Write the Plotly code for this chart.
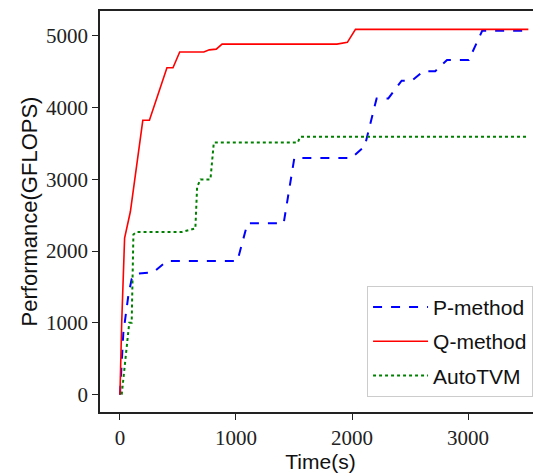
import plotly.graph_objects as go

# P-method
p_time = [0, 29, 72, 101, 145, 289, 405, 1012, 1099, 1411, 1503, 1995, 2110, 2212, 2313, 2428, 2515, 2616, 2717, 2819, 3007, 3122, 3520]
p_perf = [0, 857, 1378, 1610, 1685, 1705, 1860, 1860, 2385, 2385, 3295, 3295, 3460, 4124, 4124, 4370, 4370, 4503, 4503, 4659, 4659, 5065, 5065]

# Q-method
q_time = [0, 15, 40, 90, 197, 254, 405, 457, 515, 723, 770, 830, 880, 1870, 1960, 2030, 3520]
q_perf = [0, 1000, 2180, 2550, 3820, 3820, 4550, 4550, 4770, 4770, 4800, 4810, 4880, 4880, 4905, 5085, 5085]

# AutoTVM
a_time = [15, 80, 101, 116, 145, 535, 650, 665, 694, 780, 809, 1532, 1553, 3500]
a_perf = [0, 1000, 1000, 2230, 2265, 2265, 2315, 2890, 2997, 2997, 3510, 3510, 3590, 3590]

x_ticks = [0, 1000, 2000, 3000]
y_ticks = [0, 1000, 2000, 3000, 4000, 5000]

fig = go.Figure()
fig.add_trace(go.Scatter(x=p_time, y=p_perf, mode="lines", name="P-method",
                         line=dict(color="#0000ff", width=2, dash="dash"),
                         legendgroup="p"))
fig.add_trace(go.Scatter(x=q_time, y=q_perf, mode="lines", name="Q-method",
                         line=dict(color="#ff0000", width=1.6),
                         legendgroup="q"))
fig.add_trace(go.Scatter(x=a_time, y=a_perf, mode="lines", name="AutoTVM",
                         line=dict(color="#008000", width=2, dash="dot"),
                         legendgroup="a"))

tickfont = dict(family="Liberation Serif", size=21, color="#222")
fig.update_layout(
    width=533, height=465,
    margin=dict(l=92, r=0, t=3, b=61),
    paper_bgcolor="white", plot_bgcolor="white",
    showlegend=True,
    legend=dict(x=0.982, y=0.038, xanchor="right", yanchor="bottom",
                bordercolor="#cccccc", borderwidth=1, bgcolor="white",
                font=dict(family="Liberation Sans", size=21, color="#111"),
                traceorder="grouped", tracegroupgap=4, itemwidth=55),
    xaxis=dict(range=[-172, 3629], tickvals=x_ticks, showgrid=False, zeroline=False,
               showline=True, linecolor="#222", linewidth=1.5, mirror=True,
               ticks="outside", ticklen=6, tickcolor="#222", tickfont=tickfont,
               title=dict(text="Time(s)", font=dict(family="Liberation Sans", size=21, color="#111"),
                          standoff=4)),
    yaxis=dict(range=[-241, 5341], tickvals=y_ticks, showgrid=False, zeroline=False,
               showline=True, linecolor="#222", linewidth=1.5,
               ticks="outside", ticklen=6, tickcolor="#222", tickfont=tickfont,
               title=dict(text="Performance(GFLOPS)", font=dict(family="Liberation Sans", size=22, color="#111"),
                          standoff=2)),
)
fig.write_html("out.html")
